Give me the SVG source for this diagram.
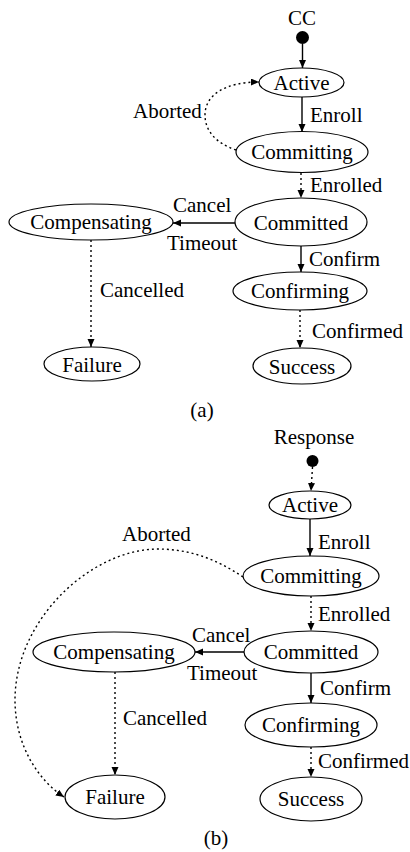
<svg xmlns="http://www.w3.org/2000/svg" width="410" height="852" viewBox="0 0 410 852" font-family="'Liberation Serif', 'DejaVu Serif', serif" font-size="21">
<style>
  text { font-family: 'Liberation Serif', 'DejaVu Serif', serif; font-size: 21px; fill: #000; }
  .c { text-anchor: middle; }
  .node ellipse { fill: #fff; stroke: #000; stroke-width: 1.2; }
  .e { fill: none; stroke: #000; stroke-width: 1.4; }
  .d { stroke-dasharray: 2 3; }
</style>
<defs>
  <marker id="ah" markerUnits="userSpaceOnUse" markerWidth="9" markerHeight="8" refX="8" refY="3.5" orient="auto">
    <path d="M0,0 L8,3.5 L0,7 z" fill="#000"/>
  </marker>
</defs>
<rect width="410" height="852" fill="#fff"/>

<!-- ===== (a) ===== -->
<g id="connectors-a">
  <line class="e" x1="302.5" y1="44" x2="302.5" y2="68" marker-end="url(#ah)"/>
  <line class="e" x1="302" y1="97" x2="302" y2="132" marker-end="url(#ah)"/>
  <line class="e d" x1="301" y1="173" x2="301" y2="198" marker-end="url(#ah)"/>
  <line class="e" x1="235" y1="223" x2="173" y2="223" marker-end="url(#ah)"/>
  <line class="e" x1="301" y1="246" x2="301" y2="272" marker-end="url(#ah)"/>
  <line class="e d" x1="300" y1="310" x2="300" y2="348" marker-end="url(#ah)"/>
  <line class="e d" x1="91" y1="240" x2="91" y2="347" marker-end="url(#ah)"/>
  <path class="e d" d="M236,150 C215,143 205,130 205,115 C205,95 225,82 259,82" marker-end="url(#ah)"/>
  <text x="310" y="122">Enroll</text>
  <text x="310" y="192">Enrolled</text>
  <text x="173" y="212">Cancel</text>
  <text x="167" y="250">Timeout</text>
  <text x="309" y="266">Confirm</text>
  <text x="312" y="338">Confirmed</text>
  <text x="100" y="297">Cancelled</text>
  <text x="133" y="118">Aborted</text>
</g>
<g id="a-start">
  <text class="c" x="302" y="25">CC</text>
  <circle cx="302.5" cy="37.5" r="6.5" fill="#000"/>
</g>
<g id="a-active" class="node"><ellipse cx="301.5" cy="82.5" rx="42.5" ry="14.5"/><text class="c" x="301.5" y="90">Active</text></g>
<g id="a-committing" class="node"><ellipse cx="302" cy="152" rx="66" ry="20.5"/><text class="c" x="302" y="159">Committing</text></g>
<g id="a-committed" class="node"><ellipse cx="301" cy="222" rx="66" ry="24"/><text class="c" x="301" y="230">Committed</text></g>
<g id="a-compensating" class="node"><ellipse cx="91" cy="222" rx="82" ry="18"/><text class="c" x="91" y="229">Compensating</text></g>
<g id="a-confirming" class="node"><ellipse cx="300" cy="291" rx="67" ry="19"/><text class="c" x="300" y="298">Confirming</text></g>
<g id="a-success" class="node"><ellipse cx="302" cy="366" rx="49" ry="18"/><text class="c" x="302" y="374">Success</text></g>
<g id="a-failure" class="node"><ellipse cx="92" cy="364" rx="48" ry="17"/><text class="c" x="92" y="372">Failure</text></g>
<text class="c" x="202" y="417">(a)</text>

<!-- ===== (b) ===== -->
<g id="connectors-b">
  <line class="e d" x1="312.5" y1="467" x2="311" y2="491" marker-end="url(#ah)"/>
  <line class="e" x1="310" y1="519" x2="310" y2="556" marker-end="url(#ah)"/>
  <line class="e d" x1="311" y1="596" x2="311" y2="631" marker-end="url(#ah)"/>
  <line class="e" x1="244" y1="652" x2="195" y2="652" marker-end="url(#ah)"/>
  <line class="e" x1="311" y1="673" x2="311" y2="703" marker-end="url(#ah)"/>
  <line class="e d" x1="311" y1="747" x2="311" y2="777" marker-end="url(#ah)"/>
  <line class="e d" x1="115" y1="672" x2="115" y2="775" marker-end="url(#ah)"/>
  <path class="e d" d="M243,577 C215,558 188,549 157,549 C90,550 15,620 15,700 C15,745 38,780 64,797" marker-end="url(#ah)"/>
  <text x="318" y="549">Enroll</text>
  <text x="318" y="621">Enrolled</text>
  <text x="192" y="642">Cancel</text>
  <text x="187" y="680">Timeout</text>
  <text x="320" y="695">Confirm</text>
  <text x="318" y="768">Confirmed</text>
  <text x="123" y="725">Cancelled</text>
  <text x="122" y="541">Aborted</text>
</g>
<g id="b-start">
  <text class="c" x="314" y="444">Response</text>
  <circle cx="312.5" cy="461" r="6" fill="#000"/>
</g>
<g id="b-active" class="node"><ellipse cx="310" cy="505" rx="41" ry="14"/><text class="c" x="310" y="512">Active</text></g>
<g id="b-committing" class="node"><ellipse cx="311" cy="576" rx="68" ry="20"/><text class="c" x="311" y="583">Committing</text></g>
<g id="b-committed" class="node"><ellipse cx="311" cy="652" rx="67" ry="21"/><text class="c" x="311" y="659">Committed</text></g>
<g id="b-compensating" class="node"><ellipse cx="114" cy="652" rx="81" ry="20"/><text class="c" x="114" y="659">Compensating</text></g>
<g id="b-confirming" class="node"><ellipse cx="311" cy="725" rx="66" ry="22"/><text class="c" x="311" y="732">Confirming</text></g>
<g id="b-success" class="node"><ellipse cx="311" cy="799" rx="51" ry="22"/><text class="c" x="311" y="806">Success</text></g>
<g id="b-failure" class="node"><ellipse cx="115" cy="797" rx="50" ry="22"/><text class="c" x="115" y="804">Failure</text></g>
<text class="c" x="216" y="845">(b)</text>
</svg>
